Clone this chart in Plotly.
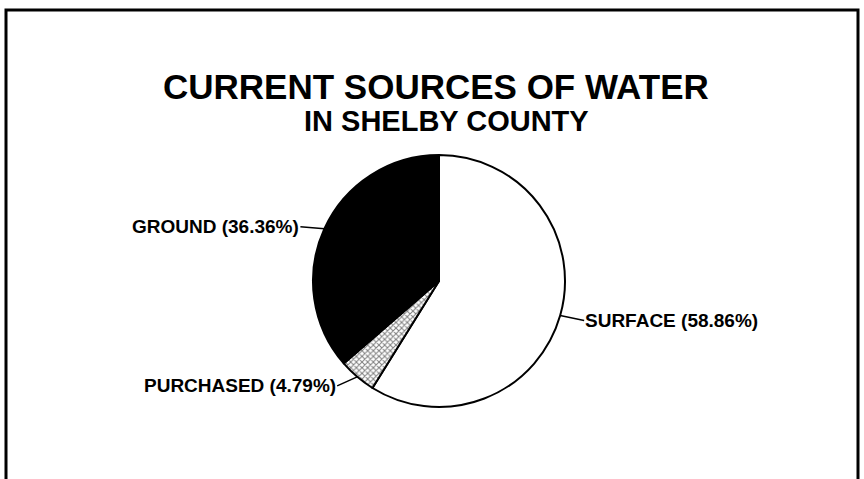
import math
import plotly.graph_objects as go

# ---- data ----
sources = ["SURFACE", "PURCHASED", "GROUND"]
shares = [58.86, 4.79, 36.36]
title_text = "CURRENT SOURCES OF WATER"
subtitle_text = "IN SHELBY COUNTY"

# ---- styles / layout ----
fills = ["white", "white", "black"]
patterns = ["", "x", ""]
W, H = 864, 479
CX, CY, R = 439, 281, 126          # pie centre / radius in pixels
# label tail offsets (px) relative to the slice edge, and text anchor
label_layout = {
    "SURFACE": (24, 5, "left"),
    "PURCHASED": (-20, 9, "right"),
    "GROUND": (-24, -2, "right"),
}
FONT = "Liberation Sans, Arial, sans-serif"

fig = go.Figure(
    go.Pie(
        labels=sources,
        values=shares,
        sort=False,
        direction="clockwise",
        rotation=0,
        textinfo="none",
        hoverinfo="label+percent",
        showlegend=False,
        marker=dict(
            colors=fills,
            line=dict(color="black", width=2),
            pattern=dict(shape=patterns, fgcolor="black", bgcolor="white",
                         size=4, solidity=0.45, fillmode="overlay"),
        ),
        domain=dict(x=[(CX - R) / W, (CX + R) / W],
                    y=[1 - (CY + R) / H, 1 - (CY - R) / H]),
    )
)

# leader-line labels at each slice's mid angle
total = sum(shares)
cum = 0.0
annotations = []
for lab, val in zip(sources, shares):
    mid = (cum + val / 2) / total * 2 * math.pi
    cum += val
    px = CX + R * math.sin(mid)
    py = CY - R * math.cos(mid)
    ax, ay, anchor = label_layout[lab]
    annotations.append(dict(
        x=px / W, y=1 - py / H, xref="paper", yref="paper",
        text=f"{lab} ({val:.2f}%)",
        showarrow=True, arrowhead=0, arrowwidth=1.5, arrowcolor="black",
        ax=ax, ay=ay, xanchor=anchor, yanchor="middle",
        standoff=0, borderpad=0,
        font=dict(family=FONT, size=19, color="black", weight="bold"),
    ))

annotations.append(dict(
    x=436 / W, y=1 - 86 / H, xref="paper", yref="paper", showarrow=False,
    text=f"<b>{title_text}</b>", xanchor="center", yanchor="middle",
    font=dict(family=FONT, size=35, color="black"),
))
annotations.append(dict(
    x=446 / W, y=1 - 121 / H, xref="paper", yref="paper", showarrow=False,
    text=f"<b>{subtitle_text}</b>", xanchor="center", yanchor="middle",
    font=dict(family=FONT, size=29, color="black"),
))

fig.update_layout(
    width=W, height=H,
    margin=dict(l=0, r=0, t=0, b=0),
    paper_bgcolor="white", plot_bgcolor="white",
    annotations=annotations,
    shapes=[dict(type="rect", xref="paper", yref="paper",
                 x0=6 / W, x1=858 / W, y0=-0.2, y1=1 - 10 / H,
                 line=dict(color="black", width=3))],
)

fig.write_html(
    "out.html",
    config={"displayModeBar": False},
    post_script="document.body.style.margin='0';document.body.style.overflow='hidden';",
)
